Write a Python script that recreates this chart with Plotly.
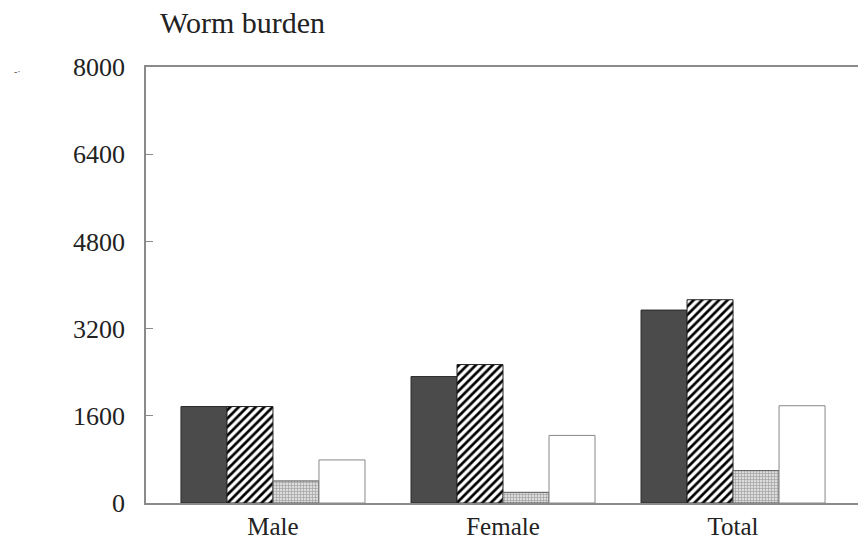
import plotly.graph_objects as go

categories = ["Male", "Female", "Total"]
series_a = [1770, 2320, 3540]   # dark solid
series_b = [1770, 2540, 3730]   # diagonal hatch
series_c = [405, 196, 594]      # fine dotted
series_d = [790, 1240, 1785]    # open
y_ticks = [0, 1600, 3200, 4800, 6400, 8000]

FONT = "Liberation Serif, Times New Roman, serif"

fig = go.Figure()
fig.add_bar(x=categories, y=series_a, name="a",
            marker=dict(color="#4b4b4b", line=dict(color="#2a2a2a", width=1)))
fig.add_bar(x=categories, y=series_b, name="b",
            marker=dict(color="white", line=dict(color="#222", width=1),
                        pattern=dict(shape="/", fgcolor="#000", bgcolor="white",
                                     size=6, solidity=0.45, fgopacity=1)))
fig.add_bar(x=categories, y=series_c, name="c",
            marker=dict(color="white", line=dict(color="#555", width=1),
                        pattern=dict(shape="+", fgcolor="#666", bgcolor="#dcdcdc",
                                     size=3, solidity=0.4)))
fig.add_bar(x=categories, y=series_d, name="d",
            marker=dict(color="white", line=dict(color="#888", width=1)))

# page body has an 8px margin, so the figure is sized/offset to compensate
fig.update_layout(
    width=858, height=530,
    margin=dict(l=138, r=0, t=59, b=35),
    paper_bgcolor="white", plot_bgcolor="white",
    barmode="group", bargap=0.2, bargroupgap=0,
    showlegend=False,
    font=dict(family=FONT, color="#222", size=26),
)
fig.update_xaxes(
    type="category", range=[-0.552, 2.578], automargin=False,
    showline=True, linecolor="#8a8a8a", linewidth=1.5, mirror=True,
    ticks="", showgrid=False, zeroline=False, ticklabelstandoff=0,
    tickfont=dict(family=FONT, size=25, color="#222"),
)
fig.update_yaxes(
    range=[0, 8000], tickvals=y_ticks, ticktext=[str(v) for v in y_ticks],
    automargin=False,
    showline=True, linecolor="#8a8a8a", linewidth=1.5,
    ticks="inside", ticklen=7, tickcolor="#8a8a8a",
    showgrid=False, zeroline=False, ticklabelstandoff=14,
    tickfont=dict(family=FONT, size=26, color="#222"),
)
fig.add_annotation(text="Worm burden", xref="paper", yref="paper",
                   x=12 / 720, y=1 + 45 / 436,
                   xanchor="left", yanchor="middle", showarrow=False,
                   font=dict(family=FONT, size=30, color="#222"))
fig.add_annotation(text="-·", xref="paper", yref="paper",
                   x=-134 / 720, y=1 - 5 / 436,
                   xanchor="left", yanchor="middle", showarrow=False,
                   font=dict(family=FONT, size=10, color="#555"))

fig.write_html("out.html")
